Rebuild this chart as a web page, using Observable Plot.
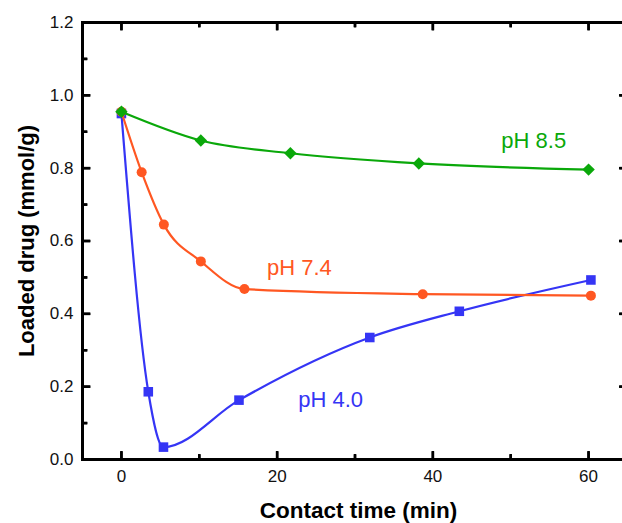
<!DOCTYPE html>
<html>
<head>
<meta charset="utf-8">
<script src="https://cdn.jsdelivr.net/npm/d3@7"></script>
<script src="https://cdn.jsdelivr.net/npm/@observablehq/plot@0.6"></script>
<style>
  html, body { margin: 0; padding: 0; background: #fff; }
</style>
</head>
<body>
<div id="chart"></div>
<script>
// Data
const timeBlue   = [0, 3.45, 5.4, 15.1, 31.9, 43.4, 60.3];
const drugBlue   = [0.95, 0.186, 0.034, 0.163, 0.335, 0.407, 0.493];
const timeOrange = [0, 2.6, 5.45, 10.2, 15.8, 38.7, 60.3];
const drugOrange = [0.955, 0.789, 0.645, 0.544, 0.468, 0.454, 0.450];
const timeGreen  = [0, 10.2, 21.7, 38.2, 60];
const drugGreen  = [0.955, 0.876, 0.841, 0.813, 0.796];

const seriesNames  = ["pH 4.0", "pH 7.4", "pH 8.5"];
const seriesColors = ["#3535f5", "#ff5722", "#0aa80a"];
const labelX = [22.7, 18.7, 48.8];
const labelY = [0.164, 0.525, 0.875];

const xMajor = [0, 20, 40, 60];
const xMinor = [10, 30, 50];
const yMajor = [0, 0.2, 0.4, 0.6, 0.8, 1.0, 1.2];
const yMinor = [0.1, 0.3, 0.5, 0.7, 0.9, 1.1];

const xTitle = "Contact time (min)";
const yTitle = "Loaded drug (mmol/g)";

const xDomain = [-5, 65];
const yDomain = [0, 1.2];
const W = 622, H = 523, ML = 82, MR = -5, MT = 22, MB = 64;
const plotW = W - ML - MR, plotH = H - MT - MB;

const toRows = (ts, vs) => ts.map((t, i) => ({t, v: vs[i]}));
const blue = toRows(timeBlue, drugBlue);
const orange = toRows(timeOrange, drugOrange);
const green = toRows(timeGreen, drugGreen);
const labels = seriesNames.map((name, i) => ({name, x: labelX[i], y: labelY[i], color: seriesColors[i]}));

// inward tick marks: short rules trimmed by insets, plus matching line symbols on the frame edges
const tickStyle = {stroke: "black", strokeWidth: 2.5};
const tickSym = (dx, dy) => ({draw(ctx) { ctx.moveTo(0, 0); ctx.lineTo(dx, dy); }});
const xTicks = (ticks, size) => [
  Plot.ruleX(ticks, {x: d => d, insetTop: plotH - size, ...tickStyle}),
  Plot.ruleX(ticks, {x: d => d, insetBottom: plotH - size, ...tickStyle}),
  Plot.dot(ticks, {x: d => d, y: () => yDomain[0], symbol: tickSym(0, -size), fill: "none", r: 3, ...tickStyle}),
  Plot.dot(ticks, {x: d => d, y: () => yDomain[1], symbol: tickSym(0, size), fill: "none", r: 3, ...tickStyle})
];
const yTicks = (ticks, size) => [
  Plot.ruleY(ticks, {y: d => d, insetRight: plotW - size, ...tickStyle}),
  Plot.ruleY(ticks, {y: d => d, insetLeft: plotW - size, ...tickStyle}),
  Plot.dot(ticks, {y: d => d, x: () => xDomain[0], symbol: tickSym(size, 0), fill: "none", r: 3, ...tickStyle}),
  Plot.dot(ticks, {y: d => d, x: () => xDomain[1], symbol: tickSym(-size, 0), fill: "none", r: 3, ...tickStyle})
];

const chart = Plot.plot({
  width: W,
  height: H,
  marginLeft: ML,
  marginRight: MR,
  marginTop: MT,
  marginBottom: MB,
  style: {fontFamily: "Liberation Sans, Arial, sans-serif"},
  x: {domain: xDomain},
  y: {domain: yDomain},
  marks: [
    // tick label axes
    Plot.axisX({anchor: "bottom", ticks: xMajor, tickSize: 0, tickPadding: 10, fontSize: 17, label: null, fill: "#111"}),
    Plot.axisY({anchor: "left", ticks: yMajor, tickSize: 0, tickPadding: 9, fontSize: 17, label: null, fill: "#111", tickFormat: d3.format(".1f")}),
    // series
    Plot.line(blue, {x: "t", y: "v", stroke: seriesColors[0], strokeWidth: 2.2, curve: "monotone-x"}),
    Plot.dot(blue, {x: "t", y: "v", symbol: "square", r: 5.4, fill: seriesColors[0]}),
    Plot.line(orange, {x: "t", y: "v", stroke: seriesColors[1], strokeWidth: 2.2, curve: "monotone-x"}),
    Plot.dot(orange, {x: "t", y: "v", symbol: "circle", r: 5, fill: seriesColors[1]}),
    Plot.line(green, {x: "t", y: "v", stroke: seriesColors[2], strokeWidth: 2.2, curve: "monotone-x"}),
    Plot.dot(green, {x: "t", y: "v", symbol: "diamond2", r: 5.6, fill: seriesColors[2]}),
    // series labels
    Plot.text(labels, {x: "x", y: "y", text: "name", fill: "color", fontSize: 22, textAnchor: "start", lineAnchor: "middle"}),
    // frame
    Plot.frame({stroke: "black", strokeWidth: 3}),
    // inward ticks on all sides
    ...xTicks(xMajor, 8),
    ...xTicks(xMinor, 5),
    ...yTicks(yMajor, 8),
    ...yTicks(yMinor, 5),
    // axis titles
    Plot.text([xTitle], {frameAnchor: "bottom", dy: 51, dx: 3.5, fontSize: 22.5, fontWeight: "bold", textAnchor: "middle", lineAnchor: "middle", fill: "#000"}),
    Plot.text([yTitle], {frameAnchor: "left", dx: -56, rotate: -90, fontSize: 22, fontWeight: "bold", textAnchor: "middle", lineAnchor: "middle", fill: "#000"})
  ]
});
document.getElementById("chart").appendChild(chart);
</script>
</body>
</html>
